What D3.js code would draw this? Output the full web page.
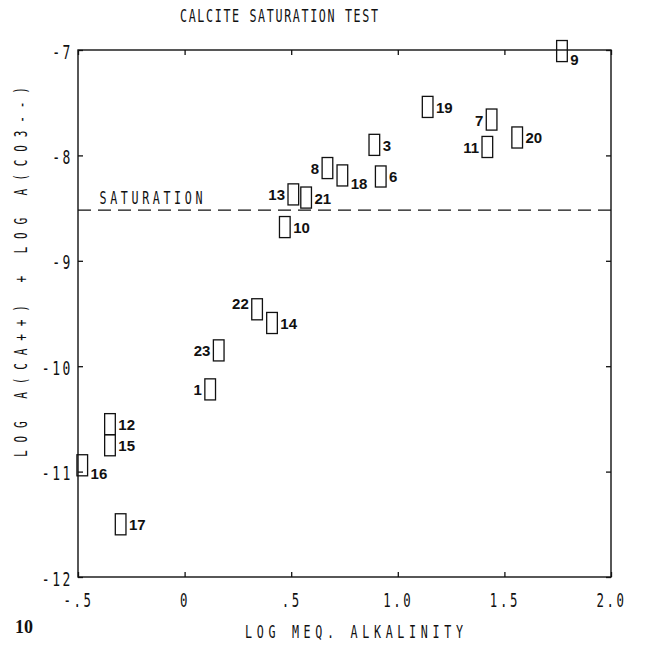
<!DOCTYPE html>
<html>
<head>
<meta charset="utf-8">
<script src="https://cdn.jsdelivr.net/npm/d3@7"></script>
<style>
  body { margin: 0; background: #fff; }
  svg { display: block; }
</style>
</head>
<body>
<svg id="chart" width="645" height="648"></svg>
<script>
// sample numbers and values
var sampleNo   = [1, 3, 6, 7, 8, 9, 10, 11, 12, 13, 14, 15, 16, 17, 18, 19, 20, 21, 22, 23];
var alkalinity = [0.12, 0.89, 0.92, 1.44, 0.67, 1.77, 0.47, 1.42, -0.35, 0.51, 0.41, -0.35, -0.48, -0.30, 0.74, 1.14, 1.56, 0.57, 0.34, 0.16];
var logIAP     = [-10.22, -7.90, -8.20, -7.66, -8.12, -7.01, -8.68, -7.92, -10.55, -8.37, -9.59, -10.75, -10.94, -11.50, -8.19, -7.54, -7.83, -8.40, -9.46, -9.85];
var xTicks = [-0.5, 0, 0.5, 1.0, 1.5, 2.0];
var xTickLabels = ["-.5", "0", ".5", "1.0", "1.5", "2.0"];
var yTicks = [-7, -8, -9, -10, -11, -12];
var saturation = -8.52;

// which side the number sits on
var leftLabels = [1, 7, 8, 11, 13, 22, 23];
var lowLabels = [9, 16, 18];

var svg = d3.select("#chart"),
    plotLeft = 78, plotRight = 611, plotTop = 50, plotBottom = 577,
    plotFont = "DejaVu Sans Mono",
    squeeze = 0.65;

var x = d3.scaleLinear().domain([-0.5, 2.0]).range([plotLeft, plotRight]),
    y = d3.scaleLinear().domain([-12, -7]).range([plotBottom, plotTop]);

// narrow plotter style text
function plotText(px, py, str, size, width, rot) {
  var t = svg.append("text")
      .attr("transform", "translate(" + px + "," + py + ")" + (rot ? " rotate(" + rot + ")" : "") + " scale(" + squeeze + ",1)")
      .attr("font-family", plotFont)
      .attr("font-size", size)
      .attr("text-anchor", "middle")
      .attr("fill", "#111")
      .text(str);
  if (width) t.attr("textLength", width / squeeze).attr("lengthAdjust", "spacing");
  return t;
}

// frame
svg.append("rect")
    .attr("x", plotLeft).attr("y", plotTop)
    .attr("width", plotRight - plotLeft).attr("height", plotBottom - plotTop)
    .attr("fill", "none").attr("stroke", "#111").attr("stroke-width", 1.4);

// axes with inside ticks
var xAxis = svg.append("g")
    .attr("transform", "translate(0," + plotBottom + ")")
    .call(d3.axisBottom(x).tickValues(xTicks).tickSize(-5)
          .tickFormat(function(d, i) { return xTickLabels[i]; }));
xAxis.selectAll("text")
    .attr("y", 30).attr("dy", 0)
    .attr("transform", "scale(" + squeeze + ",1)")
    .attr("font-family", plotFont).attr("font-size", 19)
    .attr("letter-spacing", 4).attr("fill", "#111");

svg.append("g")
    .attr("transform", "translate(0," + plotTop + ")")
    .call(d3.axisTop(x).tickValues(xTicks).tickSize(-5).tickFormat(""));

var yAxis = svg.append("g")
    .attr("transform", "translate(" + plotLeft + ",0)")
    .call(d3.axisLeft(y).tickValues(yTicks).tickSize(-5)
          .tickFormat(function(d) { return "-" + Math.abs(d); }));
yAxis.selectAll("text")
    .attr("x", -5 / squeeze).attr("dy", 0).attr("y", 8)
    .attr("transform", "scale(" + squeeze + ",1)")
    .attr("font-family", plotFont).attr("font-size", 20)
    .attr("letter-spacing", 4).attr("fill", "#111");

svg.append("g")
    .attr("transform", "translate(" + plotRight + ",0)")
    .call(d3.axisRight(y).tickValues(yTicks).tickSize(-5).tickFormat(""));

svg.selectAll(".domain").remove();
svg.selectAll(".tick line").attr("stroke", "#111").attr("stroke-width", 1.3);

// saturation line
svg.append("line")
    .attr("x1", x(-0.5)).attr("x2", x(2.0))
    .attr("y1", y(saturation)).attr("y2", y(saturation))
    .attr("stroke", "#111").attr("stroke-width", 1.3)
    .attr("stroke-dasharray", "13,7");
plotText(151, 204, "SATURATION", 18, 103);

// sample boxes
var data = sampleNo.map(function(n, i) {
  return {n: n, a: alkalinity[i], v: logIAP[i]};
});

var pts = svg.append("g").selectAll("g")
    .data(data)
  .enter().append("g");

pts.append("rect")
    .attr("x", function(d) { return x(d.a - 0.025); })
    .attr("y", function(d) { return y(d.v + 0.1); })
    .attr("width", function(d) { return x(d.a + 0.025) - x(d.a - 0.025); })
    .attr("height", function(d) { return y(d.v - 0.1) - y(d.v + 0.1); })
    .attr("fill", "none")
    .attr("stroke", "#111")
    .attr("stroke-width", 1.3);

pts.append("text")
    .attr("x", function(d) {
      if (leftLabels.includes(d.n)) return x(d.a - 0.025) - 3;
      return x(d.a + 0.025) + 3;
    })
    .attr("y", function(d) {
      if (lowLabels.includes(d.n)) return y(d.v) + 14;
      if (d.n === 22) return y(d.v);
      return y(d.v) + 6;
    })
    .attr("text-anchor", function(d) { return leftLabels.includes(d.n) ? "end" : "start"; })
    .attr("font-family", "Liberation Sans, Arial, sans-serif")
    .attr("font-weight", "bold")
    .attr("font-size", 15)
    .attr("fill", "#111")
    .text(function(d) { return d.n; });

// titles
plotText(279, 22, "CALCITE SATURATION TEST", 18, 198);
plotText(354, 638, "LOG MEQ. ALKALINITY", 18, 218);
plotText(27, 272, "LOG A(CA++) + LOG A(CO3--)", 17, 370, -90);

// page number
svg.append("text")
    .attr("x", 15).attr("y", 633)
    .attr("font-family", "Liberation Serif, serif")
    .attr("font-weight", "bold")
    .attr("font-size", 18)
    .attr("fill", "#111")
    .text("10");
</script>
</body>
</html>
